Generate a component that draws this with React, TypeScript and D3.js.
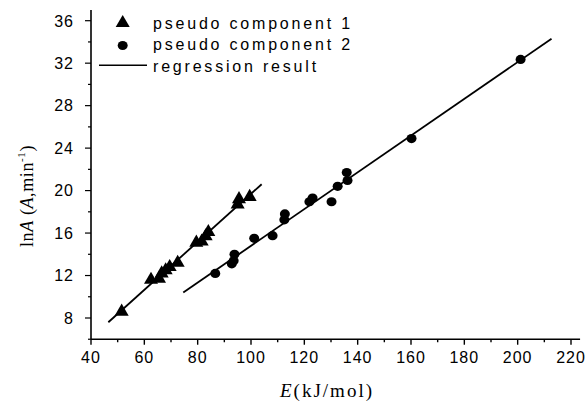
import React from "react";
import * as d3 from "d3";

const comp1E = [51.5, 62.5, 65.5, 66.5, 68, 69.5, 72.5, 79.5, 81.5, 83, 84, 95, 95.5, 99.5];
const comp1lnA = [8.6, 11.6, 11.7, 12.2, 12.5, 12.8, 13.2, 15.1, 15.2, 15.7, 16.1, 18.7, 19.2, 19.4];
const comp2E = [86.6, 92.8, 93.5, 93.8, 101.2, 108.1, 112.5, 112.7, 121.9, 123.1, 130.2, 132.5, 135.9, 136.2, 160.2, 201.1];
const comp2lnA = [12.2, 13.1, 13.4, 14.0, 15.5, 15.75, 17.25, 17.8, 18.95, 19.3, 18.95, 20.4, 21.7, 20.95, 24.9, 32.35];
const reg1E = [46.5, 104];
const reg1lnA = [7.6, 20.6];
const reg2E = [74.6, 212.7];
const reg2lnA = [10.4, 34.3];
const xTicks = [40, 60, 80, 100, 120, 140, 160, 180, 200, 220];
const yTicks = [8, 12, 16, 20, 24, 28, 32, 36];
const legendLabels = ["pseudo component 1", "pseudo component 2", "regression result"];

export default function App() {
  const W = 588, H = 403;
  const x = d3.scaleLinear().domain([40, 220]).range([91, 571]);
  const y = d3.scaleLinear().domain([8, 36]).range([318, 20.7]);
  const xMax = 223.4;
  const yMin = 6.0, yMax = 37.0;
  const xMinor = d3.range(40, 221, 10);
  const yMinor = d3.range(6, 37.01, 2);
  const line = d3.line<[number, number]>().x(d => x(d[0])).y(d => y(d[1]));
  const tri = d3.symbol().type(d3.symbolTriangle).size(85)();
  const sans = "'Liberation Sans', Arial, sans-serif";
  const serif = "'Liberation Serif', 'Times New Roman', serif";
  return (
    <svg width={W} height={H} style={{ position: "absolute", left: 0, top: 0, background: "#fff" }}>
      {/* axes */}
      <line x1={x(40)} x2={x(xMax)} y1={y(yMin)} y2={y(yMin)} stroke="#000" strokeWidth={1.6} />
      <line x1={x(40)} x2={x(40)} y1={y(yMin)} y2={y(yMax)} stroke="#000" strokeWidth={1.6} />
      {xMinor.map(v => (
        <line key={"xm" + v} x1={x(v)} x2={x(v)} y1={y(yMin)} y2={y(yMin) + (v % 20 === 0 ? 5.5 : 3)} stroke="#000" strokeWidth={1.4} />
      ))}
      {yMinor.map(v => (
        <line key={"ym" + v} x1={x(40)} x2={x(40) - (v % 4 === 0 ? 6 : 3)} y1={y(v)} y2={y(v)} stroke="#000" strokeWidth={1.2} />
      ))}
      {xTicks.map(v => (
        <text key={"xt" + v} x={x(v)} y={363} textAnchor="middle" fontFamily={sans} fontSize={16} letterSpacing={1} fill="#000">{v}</text>
      ))}
      {yTicks.map(v => (
        <text key={"yt" + v} x={74} y={y(v) + 5.8} textAnchor="end" fontFamily={sans} fontSize={16} letterSpacing={1} fill="#000">{v}</text>
      ))}
      {/* axis titles */}
      <text x={327} y={397} textAnchor="middle" fontFamily={serif} fontSize={19} letterSpacing={2} fill="#000">
        <tspan fontStyle="italic">E</tspan>(kJ/mol)
      </text>
      <text transform={`translate(33,196) rotate(-90)`} textAnchor="middle" fontFamily={serif} fontSize={18} letterSpacing={0.6} fill="#000">
        ln<tspan fontStyle="italic">A</tspan> (<tspan fontStyle="italic">A</tspan>,min<tspan dy={-8} fontSize={11}>-1</tspan><tspan dy={8}>)</tspan>
      </text>
      {/* regression lines */}
      <path d={line(reg1E.map((e, i) => [e, reg1lnA[i]]) as [number, number][]) || ""} stroke="#000" strokeWidth={1.8} fill="none" />
      <path d={line(reg2E.map((e, i) => [e, reg2lnA[i]]) as [number, number][]) || ""} stroke="#000" strokeWidth={1.8} fill="none" />
      {/* points */}
      {comp1E.map((e, i) => (
        <path key={"t" + i} d={tri || ""} transform={`translate(${x(e)},${y(comp1lnA[i])})`} fill="#000" />
      ))}
      {comp2E.map((e, i) => (
        <ellipse key={"c" + i} cx={x(e)} cy={y(comp2lnA[i])} rx={5} ry={4.6} fill="#000" />
      ))}
      {/* legend */}
      <path d={tri || ""} transform="translate(122.7,23)" fill="#000" />
      <ellipse cx={122.7} cy={45.5} rx={5} ry={4.6} fill="#000" />
      <line x1={99} x2={147} y1={65.3} y2={65.3} stroke="#000" strokeWidth={1.6} />
      {legendLabels.map((t, i) => (
        <text key={t} x={153} y={28.5 + i * 21.5} fontFamily={sans} fontSize={16} letterSpacing={2.8} fill="#000">{t}</text>
      ))}
    </svg>
  );
}
